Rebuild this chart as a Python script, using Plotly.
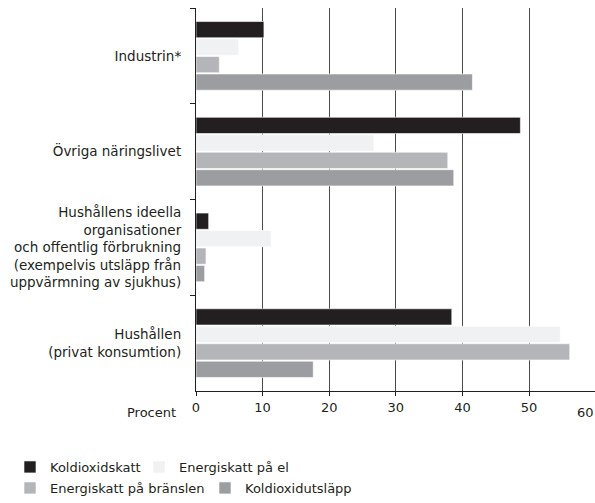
import plotly.graph_objects as go

categories = [
    "Industrin*",
    "Övriga näringslivet",
    "Hushållens ideella<br>organisationer<br>och offentlig förbrukning<br>(exempelvis utsläpp från<br>uppvärmning av sjukhus)",
    "Hushållen<br>(privat konsumtion)",
]
series_names = ["Koldioxidskatt", "Energiskatt på el", "Energiskatt på bränslen", "Koldioxidutsläpp"]
koldioxidskatt = [10.2, 48.7, 1.9, 38.4]
energiskatt_el = [6.4, 26.7, 11.3, 54.7]
energiskatt_bransle = [3.5, 37.8, 1.5, 56.1]
koldioxidutslapp = [41.5, 38.7, 1.3, 17.6]
series_values = [koldioxidskatt, energiskatt_el, energiskatt_bransle, koldioxidutslapp]
colors = ["#231f20", "#f0f1f2", "#b4b5b8", "#9c9da0"]
xticks = [0, 10, 20, 30, 40, 50]
extra_tick_label = "60"

FONT = "DejaVu Sans"
TXT = "#231f20"
W, H = 595, 503

# legend placement (container pixels): (left, centre y)
legend_pos = [(10, 467), (139, 467), (10, 488), (205, 488)]

fig = go.Figure()
for i, (name, vals, col) in enumerate(zip(series_names, series_values, colors)):
    lg = "legend" if i == 0 else f"legend{i + 1}"
    fig.add_trace(go.Bar(
        y=categories, x=vals, name=name, orientation="h",
        marker=dict(color=col, line=dict(color="white", width=0.6)),
        legend=lg, showlegend=True,
    ))

legends = {}
for i, (lx, ly) in enumerate(legend_pos):
    key = "legend" if i == 0 else f"legend{i + 1}"
    legends[key] = dict(orientation="h", xref="container", yref="container",
                        x=lx / W, y=1 - ly / H, xanchor="left", yanchor="middle",
                        font=dict(size=13, color=TXT, family=FONT),
                        itemwidth=30, bgcolor="rgba(0,0,0,0)", visible=True)

fig.update_layout(
    width=W, height=H, showlegend=True,
    margin=dict(l=196, r=0, t=8, b=112),
    paper_bgcolor="white", plot_bgcolor="white",
    font=dict(family=FONT, size=13, color=TXT),
    barmode="group", bargap=0.27, bargroupgap=0.07,
    **legends,
)
fig.update_xaxes(
    range=[0, 59.9], tickvals=xticks, ticktext=[str(v) for v in xticks],
    showgrid=True, gridcolor="#4a4a4a", gridwidth=1.3,
    showline=True, linecolor=TXT, linewidth=1,
    ticks="outside", ticklen=4, tickcolor=TXT,
    zeroline=False, tickfont=dict(size=13, color=TXT),
)
fig.update_yaxes(
    autorange="reversed", showgrid=False,
    showline=True, linecolor=TXT, linewidth=1.2,
    ticks="outside", tickson="boundaries", ticklen=5, tickcolor=TXT,
    ticklabelstandoff=11, tickfont=dict(size=13.5, color=TXT),
)
fig.add_annotation(text="Procent", xref="paper", yref="paper", x=0, y=0,
                   xanchor="right", yanchor="top", xshift=-18, yshift=-12,
                   showarrow=False, font=dict(size=13, color=TXT))
fig.add_annotation(text=extra_tick_label, xref="paper", yref="paper", x=(585 - 196) / 399, y=0,
                   xanchor="center", yanchor="top", yshift=-12,
                   showarrow=False, font=dict(size=13, color=TXT))

fig.write_html("out.html", config={"displayModeBar": False},
               post_script="document.body.style.margin='0';document.body.style.overflow='hidden';")
